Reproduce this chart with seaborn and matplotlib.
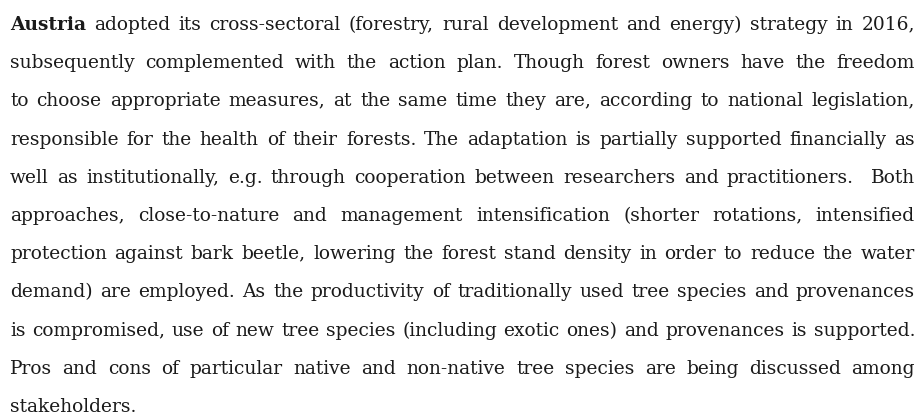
import math
import matplotlib
matplotlib.use("Agg")
import matplotlib.pyplot as plt
import seaborn as sns
from matplotlib.font_manager import FontProperties
from matplotlib.backends.backend_agg import get_hinting_flag

# Paragraph text, one entry per printed line (as in the reference)
lines = [
    "Austria adopted its cross-sectoral (forestry, rural development and energy) strategy in 2016,",
    "subsequently complemented with the action plan. Though forest owners have the freedom",
    "to choose appropriate measures, at the same time they are, according to national legislation,",
    "responsible for the health of their forests. The adaptation is partially supported financially as",
    "well as institutionally, e.g. through cooperation between researchers and practitioners.  Both",
    "approaches, close-to-nature and management intensification (shorter rotations, intensified",
    "protection against bark beetle, lowering the forest stand density in order to reduce the water",
    "demand) are employed. As the productivity of traditionally used tree species and provenances",
    "is compromised, use of new tree species (including exotic ones) and provenances is supported.",
    "Pros and cons of particular native and non-native tree species are being discussed among",
    "stakeholders.",
]
bold_words = ["Austria"]

sns.set_theme(style="white")
families = ["DejaVu Serif", "DejaVu Sans"]
plt.rcParams["font.family"] = families

W, H = 922, 419
left, right = 10, 915
first_base, line_gap = 30, 38.2
min_gap = 6.2
color = "#1a1a1a"

fig = plt.figure(figsize=(W / 100, H / 100), dpi=100)
ax = fig.add_axes([0, 0, 1, 1])
ax.set_xlim(0, W)
ax.set_ylim(H, 0)
ax.axis("off")
renderer = fig.canvas.get_renderer()


def weight(w):
    return "bold" if w in bold_words else "normal"


def width(s, fs, wt="normal"):
    t = ax.text(0, 0, s, fontsize=fs, fontweight=wt)
    w = t.get_window_extent(renderer).width
    t.remove()
    return w


def pixel_shift(s, fs, wt, base):
    # Agg snaps each word's bitmap to whole pixels using its own ink descent;
    # work out that offset so every word sits on the same baseline
    try:
        font = renderer._prepare_font(FontProperties(family=families, size=fs, weight=wt))
        font.set_text(s, 0, flags=get_hinting_flag())
        d = font.get_descent() / 64.0
        h = font.get_width_height()[1] / 64.0
        a = h - d
        return round(base + d) + math.floor(a) - math.floor(a + d) - base
    except Exception:
        return 0


def tokens(line):
    # words with the number of spaces that follow each one
    out = []
    for p in line.split(" "):
        if p == "":
            out[-1][1] += 1
        else:
            out.append([p, 1])
    out[-1][1] = 0
    return out


# font size: the tightest justified line gets gaps of min_gap pixels
base_fs = 10
fs = 99
for line in lines[:-1]:
    toks = tokens(line)
    a = sum(width(w, base_fs, weight(w)) for w, _ in toks) / base_fs
    n = sum(k for _, k in toks)
    fs = min(fs, (right - left - n * min_gap) / a)
space = width("a a", fs) - width("aa", fs)

for i, line in enumerate(lines):
    y = round(first_base + i * line_gap)
    toks = tokens(line)
    ws = [width(w, fs, weight(w)) for w, _ in toks]
    n_sp = sum(k for _, k in toks)
    if i < len(lines) - 1 and n_sp > 0:
        gap = (right - left - sum(ws)) / n_sp
    else:
        gap = space
    x = left
    for (w, k), wd in zip(toks, ws):
        dy = pixel_shift(w, fs, weight(w), y)
        ax.text(x, y - dy, w, fontsize=fs, color=color, va="baseline", ha="left",
                fontweight=weight(w))
        x += wd + k * gap

fig.savefig("out.png", dpi=100)
